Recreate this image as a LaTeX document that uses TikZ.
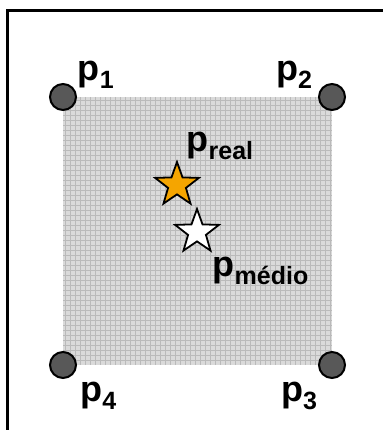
\documentclass[tikz,border=0pt]{standalone}
\usepackage{fontspec}
\setmainfont{Liberation Sans}
\usepackage{xcolor}
\usepackage{tikz}
\usetikzlibrary{shapes.geometric,positioning}

\definecolor{gridfill}{HTML}{DADADA}
\definecolor{gridline}{HTML}{BABABA}
\definecolor{cornerfill}{HTML}{585858}
\definecolor{starorange}{HTML}{F5A500}

\newcommand{\plab}[1]{p\raisebox{-8pt}{\fontsize{25}{25}\selectfont #1}}

\begin{document}
\begin{tikzpicture}[x=1pt, y=-1pt,
        corner/.style={circle, draw, line width=2pt, fill=cornerfill, minimum size=26pt, inner sep=0pt},
        pstar/.style={star, star points=5, star point ratio=2.45, draw, line width=1.8pt, minimum size=46pt, inner sep=0pt},
        lbl/.style={font=\fontsize{36}{36}\selectfont\bfseries, inner sep=0pt}
    ]
        \useasboundingbox (0,0) rectangle (382,430);

        % Frame
        \draw[line width=3pt] (7.5,431) |- (383,10.5);

        % Sampled area
        \fill[gridfill] (63,97) rectangle (332,365);
        \foreach \gx in {65,70,...,330}
            \draw[gridline, line width=0.5pt] (\gx,97) -- (\gx,365);
        \foreach \gy in {100,105,...,360}
            \draw[gridline, line width=0.5pt] (63,\gy) -- (332,\gy);

        % Corner points
        \node[corner] (p1) at (63,97) {};
        \node[corner] (p2) at (332,97) {};
        \node[corner] (p3) at (332,365) {};
        \node[corner] (p4) at (63,365) {};

        % Stars
        \node[pstar, fill=starorange] (real) at (177,185) {};
        \node[pstar, fill=white] (medio) at (197,232) {};

        % Labels
        \node[lbl, anchor=base west, xshift=4.8pt, yshift=6.8pt] (l1) at (p1.north east) {\plab{1}};
        \node[lbl, anchor=base east, xshift=-9.8pt, yshift=6.8pt] (l2) at (p2.north west) {\plab{2}};
        \node[lbl, anchor=base east, xshift=-4.8pt, yshift=-26.8pt] (l3) at (p3.south west) {\plab{3}};
        \node[lbl, anchor=base west, xshift=7.3pt, yshift=-26.8pt] (l4) at (p4.south east) {\plab{4}};
        \node[lbl, anchor=base west, xshift=9.5pt, yshift=8pt] (lreal) at (real.north) {\plab{real}};
        \node[lbl, anchor=base west, xshift=15.5pt, yshift=-44pt] (lmedio) at (medio.center) {\plab{médio}};
    \end{tikzpicture}
\end{document}
